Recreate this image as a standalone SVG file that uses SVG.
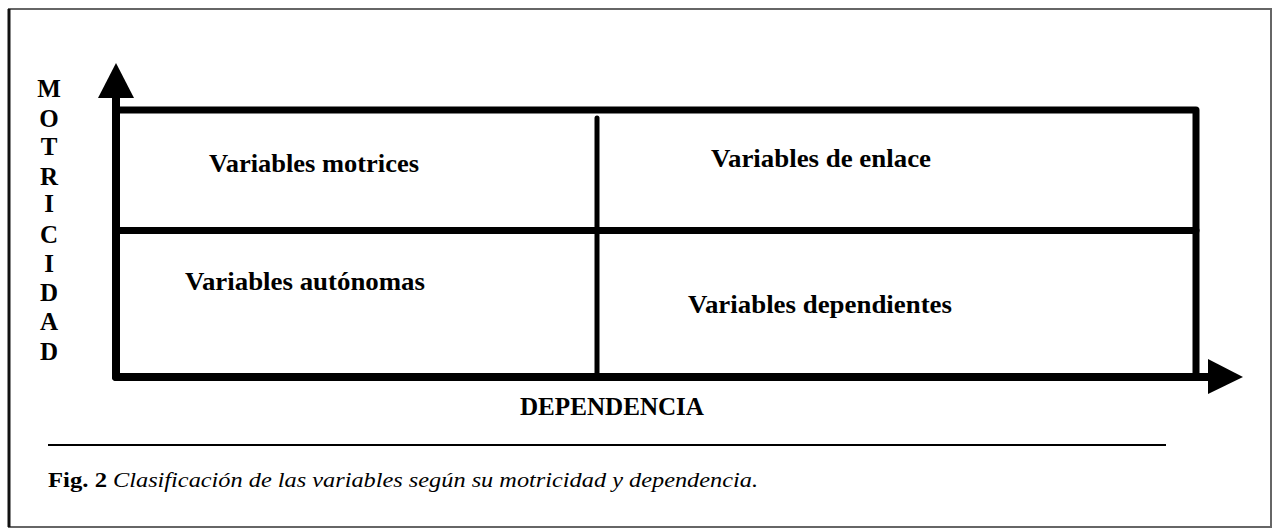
<svg xmlns="http://www.w3.org/2000/svg" width="1274" height="529" viewBox="0 0 1274 529">
<style>
.lbl{font-family:"Liberation Serif","Times New Roman",serif;font-weight:bold;font-size:26px;fill:#000}
.axl{font-family:"Liberation Serif","Times New Roman",serif;font-weight:bold;font-size:25px;fill:#000}
.cap{font-family:"Liberation Serif","Times New Roman",serif;font-size:20px;fill:#000}
.ln{stroke:#000;fill:none;stroke-linecap:round;stroke-linejoin:round}
</style>
<rect x="0" y="0" width="1274" height="529" fill="#fff"/>
<rect x="9" y="9" width="1262" height="518" fill="none" stroke="#666" stroke-width="2"/>
<line x1="9" y1="9" x2="9" y2="527" stroke="#111" stroke-width="3"/>
<g id="connectors">
  <line class="ln" x1="116" y1="96" x2="116" y2="377" stroke-width="8"/>
  <polygon points="116,63 98,98 134,98" fill="#000"/>
  <polyline class="ln" points="116,110 1196,110 1196,377" stroke-width="7"/>
  <line class="ln" x1="116" y1="377" x2="1210" y2="377" stroke-width="8" stroke-linecap="butt"/>
  <polygon points="1208,359 1243,377 1208,394" fill="#000"/>
  <line class="ln" x1="116" y1="230.5" x2="1196" y2="230.5" stroke-width="7"/>
  <line class="ln" x1="597" y1="118" x2="597" y2="377" stroke-width="5"/>
  <line x1="48" y1="445" x2="1166" y2="445" stroke="#000" stroke-width="2"/>
</g>
<g id="motrices"><text class="lbl" x="209" y="172" textLength="210" lengthAdjust="spacingAndGlyphs">Variables motrices</text></g>
<g id="enlace"><text class="lbl" x="711" y="167" textLength="220" lengthAdjust="spacingAndGlyphs">Variables de enlace</text></g>
<g id="autonomas"><text class="lbl" x="185" y="290" textLength="240" lengthAdjust="spacingAndGlyphs">Variables autónomas</text></g>
<g id="dependientes"><text class="lbl" x="688" y="313" textLength="264" lengthAdjust="spacingAndGlyphs">Variables dependientes</text></g>
<g id="motricidad-axis" class="axl" text-anchor="middle">
  <text x="49" y="97">M</text>
  <text x="49" y="127">O</text>
  <text x="49" y="155">T</text>
  <text x="49" y="185">R</text>
  <text x="49" y="212">I</text>
  <text x="49" y="243">C</text>
  <text x="49" y="272">I</text>
  <text x="49" y="301">D</text>
  <text x="49" y="330">A</text>
  <text x="49" y="360">D</text>
</g>
<g id="dependencia-axis"><text class="axl" x="520" y="415" textLength="184" lengthAdjust="spacingAndGlyphs">DEPENDENCIA</text></g>
<g id="caption">
  <text class="cap" x="48" y="487" font-weight="bold" textLength="59" lengthAdjust="spacingAndGlyphs">Fig. 2</text>
  <text class="cap" x="113" y="487" font-style="italic" font-size="23" textLength="645" lengthAdjust="spacingAndGlyphs">Clasificación de las variables según su motricidad y dependencia.</text>
</g>
</svg>
